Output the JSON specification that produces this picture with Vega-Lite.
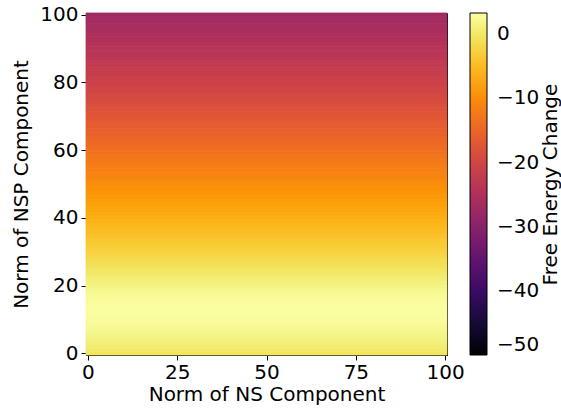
{
  "$schema": "https://vega.github.io/schema/vega-lite/v6.json",
  "width": 361,
  "height": 342,
  "autosize": {"type": "none"},
  "padding": {"left": 86, "top": 13, "right": 114, "bottom": 57},
  "background": "white",
  "config": {
    "font": "DejaVu Sans",
    "view": {"stroke": "black", "strokeWidth": 1},
    "axis": {
      "labelFont": "DejaVu Sans", "labelFontSize": 20, "labelColor": "black",
      "titleFont": "DejaVu Sans", "titleFontSize": 20, "titleColor": "black", "titleFontWeight": "normal",
      "domainColor": "black", "tickColor": "black", "tickSize": 5, "grid": false
    },
    "legend": {
      "labelFont": "DejaVu Sans", "labelFontSize": 20, "labelColor": "black",
      "titleFont": "DejaVu Sans", "titleFontSize": 20, "titleColor": "black", "titleFontWeight": "normal"
    }
  },
  "data": {"values": [
    {"lo":-0.5,"hi":0.5,"dF":-0.3},{"lo":0.5,"hi":1.5,"dF":0.1},{"lo":1.5,"hi":2.5,"dF":0.5},{"lo":2.5,"hi":3.5,"dF":0.9},
    {"lo":3.5,"hi":4.5,"dF":1.3},{"lo":4.5,"hi":5.5,"dF":1.6},{"lo":5.5,"hi":6.5,"dF":1.9},{"lo":6.5,"hi":7.5,"dF":2.2},
    {"lo":7.5,"hi":8.5,"dF":2.4},{"lo":8.5,"hi":9.5,"dF":2.6},{"lo":9.5,"hi":10.5,"dF":2.8},{"lo":10.5,"hi":11.5,"dF":2.9},
    {"lo":11.5,"hi":12.5,"dF":3.0},{"lo":12.5,"hi":13.5,"dF":3.0},{"lo":13.5,"hi":14.5,"dF":3.0},{"lo":14.5,"hi":15.5,"dF":2.9},
    {"lo":15.5,"hi":16.5,"dF":2.7},{"lo":16.5,"hi":17.5,"dF":2.5},{"lo":17.5,"hi":18.5,"dF":2.2},{"lo":18.5,"hi":19.5,"dF":1.9},
    {"lo":19.5,"hi":20.5,"dF":1.5},{"lo":20.5,"hi":21.5,"dF":1.2},{"lo":21.5,"hi":22.5,"dF":0.8},{"lo":22.5,"hi":23.5,"dF":0.4},
    {"lo":23.5,"hi":24.5,"dF":0.0},{"lo":24.5,"hi":25.5,"dF":-0.4},{"lo":25.5,"hi":26.5,"dF":-0.8},{"lo":26.5,"hi":27.5,"dF":-1.2},
    {"lo":27.5,"hi":28.5,"dF":-1.6},{"lo":28.5,"hi":29.5,"dF":-2.0},{"lo":29.5,"hi":30.5,"dF":-2.4},{"lo":30.5,"hi":31.5,"dF":-2.8},
    {"lo":31.5,"hi":32.5,"dF":-3.2},{"lo":32.5,"hi":33.5,"dF":-3.5},{"lo":33.5,"hi":34.5,"dF":-3.9},{"lo":34.5,"hi":35.5,"dF":-4.3},
    {"lo":35.5,"hi":36.5,"dF":-4.7},{"lo":36.5,"hi":37.5,"dF":-5.1},{"lo":37.5,"hi":38.5,"dF":-5.4},{"lo":38.5,"hi":39.5,"dF":-5.8},
    {"lo":39.5,"hi":40.5,"dF":-6.2},{"lo":40.5,"hi":41.5,"dF":-6.6},{"lo":41.5,"hi":42.5,"dF":-7.0},{"lo":42.5,"hi":43.5,"dF":-7.3},
    {"lo":43.5,"hi":44.5,"dF":-7.7},{"lo":44.5,"hi":45.5,"dF":-8.1},{"lo":45.5,"hi":46.5,"dF":-8.5},{"lo":46.5,"hi":47.5,"dF":-8.9},
    {"lo":47.5,"hi":48.5,"dF":-9.2},{"lo":48.5,"hi":49.5,"dF":-9.6},{"lo":49.5,"hi":50.5,"dF":-10.0},{"lo":50.5,"hi":51.5,"dF":-10.4},
    {"lo":51.5,"hi":52.5,"dF":-10.7},{"lo":52.5,"hi":53.5,"dF":-11.1},{"lo":53.5,"hi":54.5,"dF":-11.4},{"lo":54.5,"hi":55.5,"dF":-11.8},
    {"lo":55.5,"hi":56.5,"dF":-12.2},{"lo":56.5,"hi":57.5,"dF":-12.5},{"lo":57.5,"hi":58.5,"dF":-12.9},{"lo":58.5,"hi":59.5,"dF":-13.2},
    {"lo":59.5,"hi":60.5,"dF":-13.6},{"lo":60.5,"hi":61.5,"dF":-14.0},{"lo":61.5,"hi":62.5,"dF":-14.3},{"lo":62.5,"hi":63.5,"dF":-14.7},
    {"lo":63.5,"hi":64.5,"dF":-15.0},{"lo":64.5,"hi":65.5,"dF":-15.4},{"lo":65.5,"hi":66.5,"dF":-15.8},{"lo":66.5,"hi":67.5,"dF":-16.1},
    {"lo":67.5,"hi":68.5,"dF":-16.5},{"lo":68.5,"hi":69.5,"dF":-16.8},{"lo":69.5,"hi":70.5,"dF":-17.2},{"lo":70.5,"hi":71.5,"dF":-17.6},
    {"lo":71.5,"hi":72.5,"dF":-17.9},{"lo":72.5,"hi":73.5,"dF":-18.3},{"lo":73.5,"hi":74.5,"dF":-18.6},{"lo":74.5,"hi":75.5,"dF":-19.0},
    {"lo":75.5,"hi":76.5,"dF":-19.4},{"lo":76.5,"hi":77.5,"dF":-19.7},{"lo":77.5,"hi":78.5,"dF":-20.1},{"lo":78.5,"hi":79.5,"dF":-20.4},
    {"lo":79.5,"hi":80.5,"dF":-20.8},{"lo":80.5,"hi":81.5,"dF":-21.1},{"lo":81.5,"hi":82.5,"dF":-21.4},{"lo":82.5,"hi":83.5,"dF":-21.7},
    {"lo":83.5,"hi":84.5,"dF":-22.0},{"lo":84.5,"hi":85.5,"dF":-22.4},{"lo":85.5,"hi":86.5,"dF":-22.7},{"lo":86.5,"hi":87.5,"dF":-23.0},
    {"lo":87.5,"hi":88.5,"dF":-23.3},{"lo":88.5,"hi":89.5,"dF":-23.6},{"lo":89.5,"hi":90.5,"dF":-23.9},{"lo":90.5,"hi":91.5,"dF":-24.2},
    {"lo":91.5,"hi":92.5,"dF":-24.5},{"lo":92.5,"hi":93.5,"dF":-24.8},{"lo":93.5,"hi":94.5,"dF":-25.1},{"lo":94.5,"hi":95.5,"dF":-25.5},
    {"lo":95.5,"hi":96.5,"dF":-25.8},{"lo":96.5,"hi":97.5,"dF":-26.1},{"lo":97.5,"hi":98.5,"dF":-26.4},{"lo":98.5,"hi":99.5,"dF":-26.7},
    {"lo":99.5,"hi":100.5,"dF":-27.0}
  ]},
  "layer": [
    {
      "mark": {"type": "rect", "strokeWidth": 0.8, "stroke": {"expr": "scale('color', datum.dF)"}},
      "encoding": {
        "x": {"datum": -0.5, "type": "quantitative",
          "scale": {"domain": [-0.5, 100.5], "nice": false, "zero": false},
          "axis": {"values": [0, 25, 50, 75, 100], "title": "Norm of NS Component", "titlePadding": 2, "labelPadding": 2}},
        "x2": {"datum": 100.5},
        "y": {"field": "lo", "type": "quantitative",
          "scale": {"domain": [-0.5, 100.5], "nice": false, "zero": false},
          "axis": {"values": [0, 20, 40, 60, 80, 100], "title": "Norm of NSP Component", "titlePadding": 8, "labelPadding": 3}},
        "y2": {"field": "hi"},
        "color": {"field": "dF", "type": "quantitative",
          "scale": {"scheme": "inferno", "domain": [-50, 3.3]},
          "legend": {"type": "gradient", "title": null, "orient": "none", "legendX": 384, "legendY": 0, "padding": 0,
            "values": [-50, -40, -30, -20, -10, 0], "labelOverlap": false,
            "gradientLength": 342, "gradientThickness": 17, "gradientStrokeColor": "black", "gradientStrokeWidth": 1,
            "labelOffset": 10}}
      }
    },
    {
      "mark": {"type": "rect", "opacity": 0},
      "encoding": {
        "x": {"datum": -0.5, "type": "quantitative"},
        "x2": {"datum": 100.5},
        "y": {"field": "lo", "type": "quantitative",
          "scale": {"domain": [-0.5, 100.5], "nice": false, "zero": false},
          "axis": {"orient": "right", "title": "Free Energy Change", "labels": false, "ticks": false, "domain": false,
            "titleAngle": 270, "titleBaseline": "top", "titleAlign": "center", "titlePadding": 93}},
        "y2": {"field": "hi"}
      }
    }
  ],
  "resolve": {"axis": {"y": "independent"}}
}
